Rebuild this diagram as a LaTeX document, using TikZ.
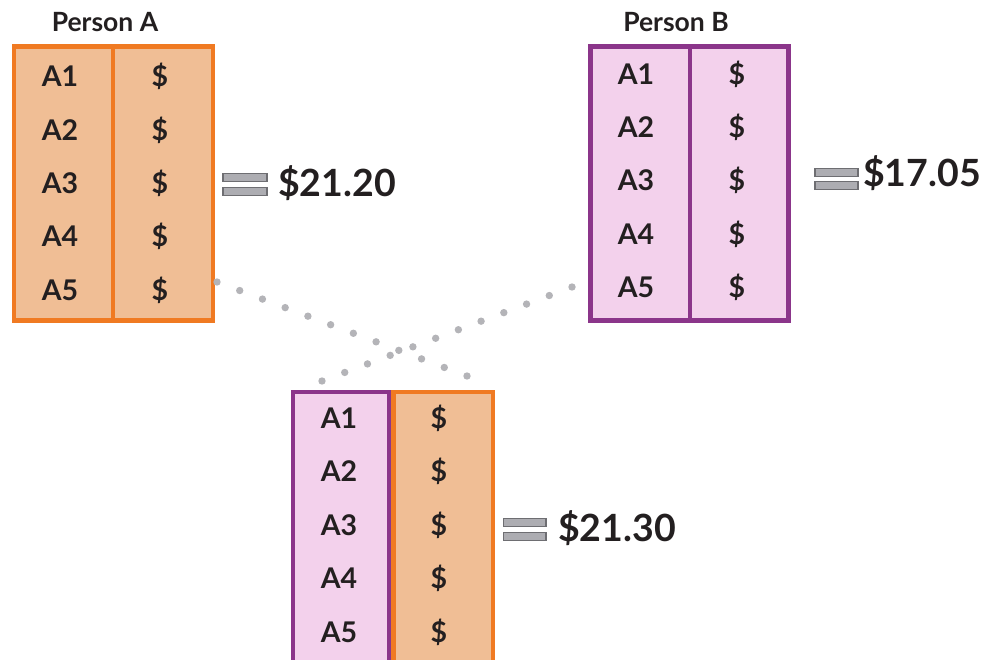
\documentclass[tikz,border=0pt]{standalone}
\usepackage{fontspec}
\setmainfont{Lato}
\usetikzlibrary{calc}
\definecolor{orangeline}{HTML}{F07A22}
\definecolor{orangefill}{HTML}{F0BE95}
\definecolor{purpleline}{HTML}{8B358A}
\definecolor{pinkfill}{HTML}{F3D1EC}
\definecolor{dotgray}{HTML}{B4B4B8}
\definecolor{bargray}{HTML}{ADADB2}
\definecolor{barline}{HTML}{6E6E72}
\definecolor{ink}{HTML}{231F20}
\begin{document}
\begin{tikzpicture}[x=1pt,y=-1pt,
    col/.style={inner sep=0pt,anchor=north west,line width=4.5pt},
    ocol/.style={col,draw=orangeline,fill=orangefill},
    pcol/.style={col,draw=purpleline,fill=pinkfill},
    cell/.style={text=ink,anchor=base,inner sep=0pt,font=\bfseries\fontsize{28.5}{28.5}\selectfont},
    head/.style={text=ink,anchor=base,inner sep=0pt,font=\bfseries\fontsize{26.5}{26.5}\selectfont},
    total/.style={text=ink,anchor=base west,inner sep=0pt,font=\bfseries\fontsize{37.5}{37.5}\selectfont},
    bar/.style={draw=barline,fill=bargray,line width=1.4pt}]

      \clip (0,0) rectangle (987,660);

      % Person A
      \node[head] (headA) at (105,32) {Person A};
      \node[ocol,minimum width=99pt,minimum height=273.5pt]  (aL) at (11.5,44.5) {};
      \node[ocol,minimum width=100pt,minimum height=273.5pt] (aR) at (110.5,44.5) {};
      \foreach \r in {1,...,5} {
        \node[cell] (aname\r) at (60,{87+(\r-1)*53.25}) {A\r};
        \node[cell] (aval\r)  at (160,{87+(\r-1)*53.25}) {\$};
      }

      % Person B
      \node[head] (headB) at (676,32) {Person B};
      \node[pcol,minimum width=99.5pt,minimum height=273.5pt] (bL) at (588,44.5) {};
      \node[pcol,minimum width=98.5pt,minimum height=273.5pt] (bR) at (687.5,44.5) {};
      \foreach \r in {1,...,5} {
        \node[cell] (bname\r) at (636,{85+(\r-1)*53}) {A\r};
        \node[cell] (bval\r)  at (737,{85+(\r-1)*53}) {\$};
      }

      % mixed
      \node[pcol,minimum width=96.5pt,minimum height=300pt] (cL) at (290.5,389.5) {};
      \node[ocol,minimum width=99.5pt,minimum height=300pt] (cR) at (391,389.5) {};
      \foreach \r in {1,...,5} {
        \node[cell] (cname\r) at (339,{428+(\r-1)*53.5}) {A\r};
        \node[cell] (cval\r)  at (439,{428+(\r-1)*53.5}) {\$};
      }

      % totals
      \draw[bar] (223,173.5) rectangle (267,181.5);
      \draw[bar] (223,187.5) rectangle (267,195.5);
      \node[total] (sumA) at (278,197) {\$21.20};

      \draw[bar] (815,168.5) rectangle (858,176.5);
      \draw[bar] (815,181.5) rectangle (858,189.5);
      \node[total] (sumB) at (863,187) {\$17.05};

      \draw[bar] (503.5,518.5) rectangle (546,526.5);
      \draw[bar] (503.5,532.5) rectangle (546,540.5);
      \node[total] (sumC) at (558,541) {\$21.30};

      % dotted links
      \coordinate (fromA) at (217,282);
      \coordinate (toCR)  at (467,376);
      \coordinate (fromB) at (572,287);
      \coordinate (toCL)  at (322,381);
      \foreach \i in {0,...,11} {
        \fill[dotgray] ($(fromA)!\i/11!(toCR)$) circle (3.7);
        \fill[dotgray] ($(fromB)!\i/11!(toCL)$) circle (3.7);
      }

    \end{tikzpicture}
\end{document}
